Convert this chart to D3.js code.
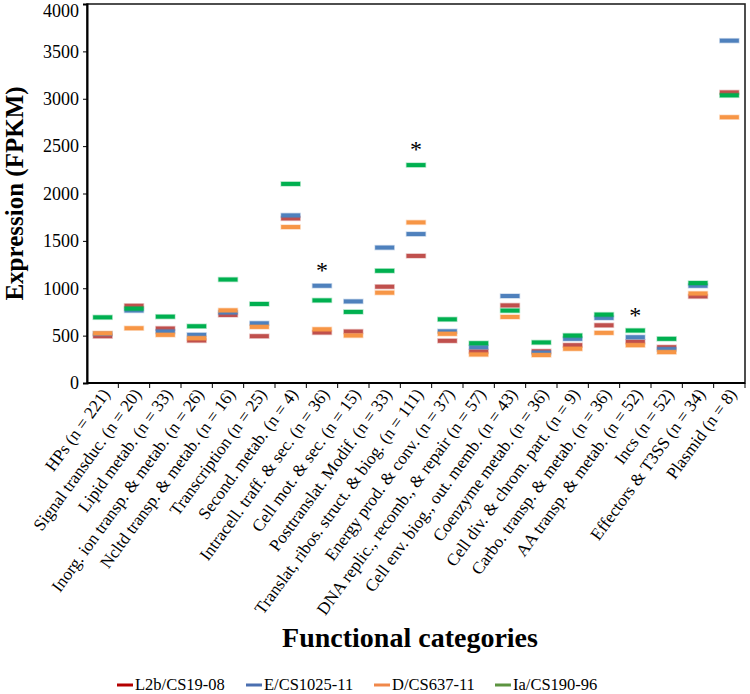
<!DOCTYPE html>
<html lang="en">
<head>
  <meta charset="UTF-8">
  <title>Expression by functional category</title>
  <script src="https://d3js.org/d3.v7.min.js"></script>
  <style>
    body, html {
      margin: 0;
      padding: 0;
      background-color: #fff;
      overflow: hidden;
    }
    svg, svg text {
      font-family: "Liberation Serif", "DejaVu Serif", serif;
    }
    .tick text {
      font-size: 18px;
      fill: #000;
    }
  </style>
</head>
<body>
  <svg class="chart"></svg>

  <script>
    // functional categories, in plot order
    const categories = [
      "HPs (n = 221)", "Signal transduc. (n = 20)", "Lipid metab. (n = 33)",
      "Inorg. ion transp. & metab. (n = 26)", "Ncltd transp. & metab. (n = 16)",
      "Transcription (n = 25)", "Second. metab. (n = 4)", "Intracell. traff. & sec. (n = 36)",
      "Cell mot. & sec. (n = 15)", "Posttranslat. Modif. (n = 33)",
      "Translat, ribos. struct. & biog. (n = 111)", "Energy prod. & conv. (n = 37)",
      "DNA replic., recomb., & repair (n = 57)", "Cell env. biog., out. memb. (n = 43)",
      "Coenzyme metab. (n = 36)", "Cell div. & chrom. part. (n = 9)",
      "Carbo. transp. & metab. (n = 36)", "AA transp. & metab. (n = 52)",
      "Incs (n = 52)", "Effectors & T3SS (n = 34)", "Plasmid (n = 8)"
    ];

    const seriesNames = ["L2b/CS19-08", "E/CS1025-11", "D/CS637-11", "Ia/CS190-96"];

    // mean expression (FPKM) per category
    const l2b = [494, 815, 575, 449, 718, 494, 1737, 533, 543, 1016, 1341, 445, 333, 819, 335, 399, 609, 435, 378, 914, 3067];
    const e   = [520, 765, 543, 508, 745, 630, 1769, 1026, 861, 1429, 1572, 546, 378, 918, 320, 466, 687, 483, 357, 1026, 3613];
    const d   = [525, 578, 508, 473, 767, 592, 1646, 567, 501, 953, 1695, 519, 301, 697, 295, 361, 529, 399, 326, 945, 2805];
    const ia  = [693, 785, 700, 599, 1092, 834, 2101, 872, 750, 1184, 2300, 672, 420, 764, 428, 501, 722, 554, 466, 1055, 3036];

    // categories marked with an asterisk
    const starred = ["Intracell. traff. & sec. (n = 36)", "Translat, ribos. struct. & biog. (n = 111)", "AA transp. & metab. (n = 52)"];

    const yTicks = [0, 500, 1000, 1500, 2000, 2500, 3000, 3500, 4000];

    const seriesValues = [l2b, e, d, ia];
    const markColors = ["#c0504d", "#4f81bd", "#f79646", "#00b050"];
    const legendColors = ["#b40000", "#4a6fb0", "#f0884a", "#5c9440"];

    const width = 750, height = 694;
    const margin = { top: 4, right: 5, bottom: 311, left: 87 };

    const svg = d3.select("svg")
      .attr("width", width)
      .attr("height", height);

    const x = d3.scaleBand()
      .domain(categories)
      .range([margin.left, width - margin.right]);

    const y = d3.scaleLinear()
      .domain([0, 4000])
      .range([height - margin.bottom, margin.top]);

    // frame
    svg.append("rect")
      .attr("x", margin.left)
      .attr("y", margin.top)
      .attr("width", width - margin.right - margin.left)
      .attr("height", height - margin.bottom - margin.top)
      .attr("fill", "none")
      .attr("stroke", "#222")
      .attr("stroke-width", 1.6);

    // y axis
    const yAxis = svg.append("g")
      .attr("transform", `translate(${margin.left},0)`)
      .call(d3.axisLeft(y).tickValues(yTicks).tickSize(4).tickPadding(4).tickFormat(d3.format("d")));
    yAxis.attr("font-family", null).attr("font-size", null);
    yAxis.select(".domain").attr("stroke-width", 2);
    // keep the top label inside the page
    yAxis.selectAll(".tick text").filter(v => v === 4000).attr("dy", "0.7em");

    // x axis: ticks between categories
    const xAxis = svg.append("g")
      .attr("transform", `translate(0,${height - margin.bottom})`);
    xAxis.append("line")
      .attr("x1", margin.left).attr("x2", width - margin.right)
      .attr("stroke", "#000").attr("stroke-width", 2);
    xAxis.selectAll(".xt")
      .data(categories)
      .enter().append("line")
      .attr("class", "xt")
      .attr("x1", c => x(c) + x.bandwidth())
      .attr("x2", c => x(c) + x.bandwidth())
      .attr("y1", 0).attr("y2", 5)
      .attr("stroke", "#000").attr("stroke-width", 1);

    xAxis.selectAll(".xl")
      .data(categories)
      .enter().append("text")
      .attr("class", "xl")
      .attr("transform", c => `translate(${x(c) + x.bandwidth() / 2 + 8},${11}) rotate(-54)`)
      .attr("text-anchor", "end")
      .attr("font-size", 17.2)
      .text(c => c);

    // dash marks
    const dashW = 19, dashH = 4;
    seriesValues.forEach((vals, si) => {
      svg.append("g")
        .selectAll("rect")
        .data(vals)
        .enter().append("rect")
        .attr("x", (v, i) => x(categories[i]) + x.bandwidth() / 2 - dashW / 2)
        .attr("y", v => y(v) - dashH / 2)
        .attr("width", dashW)
        .attr("height", dashH)
        .attr("fill", markColors[si])
        .attr("stroke", markColors[si])
        .attr("stroke-opacity", 0.3)
        .attr("stroke-width", 1.5);
    });

    // asterisks above significant categories
    svg.selectAll(".star")
      .data(starred)
      .enter().append("text")
      .attr("class", "star")
      .attr("x", c => x(c) + x.bandwidth() / 2)
      .attr("y", c => {
        const i = categories.indexOf(c);
        return y(d3.max(seriesValues, s => s[i])) - 8;
      })
      .attr("text-anchor", "middle")
      .attr("font-size", 24)
      .text("*");

    // axis titles
    svg.append("text")
      .attr("transform", `translate(23,${(margin.top + height - margin.bottom) / 2}) rotate(-90)`)
      .attr("text-anchor", "middle")
      .attr("font-size", 25)
      .attr("font-weight", "bold")
      .text("Expression (FPKM)");

    svg.append("text")
      .attr("x", 410)
      .attr("y", 647)
      .attr("text-anchor", "middle")
      .attr("font-size", 28)
      .attr("font-weight", "bold")
      .text("Functional categories");

    // legend
    const legendX = [117, 246, 374, 495];
    const legend = svg.append("g")
      .selectAll("g")
      .data(seriesNames)
      .enter().append("g")
      .attr("transform", (s, i) => `translate(${legendX[i]},685)`);
    legend.append("line")
      .attr("x1", 0).attr("x2", 16)
      .attr("stroke", (s, i) => legendColors[i])
      .attr("stroke-width", 3);
    legend.append("text")
      .attr("x", 18)
      .attr("y", 5)
      .attr("font-size", 16.5)
      .text(s => s);
  </script>
</body>
</html>
